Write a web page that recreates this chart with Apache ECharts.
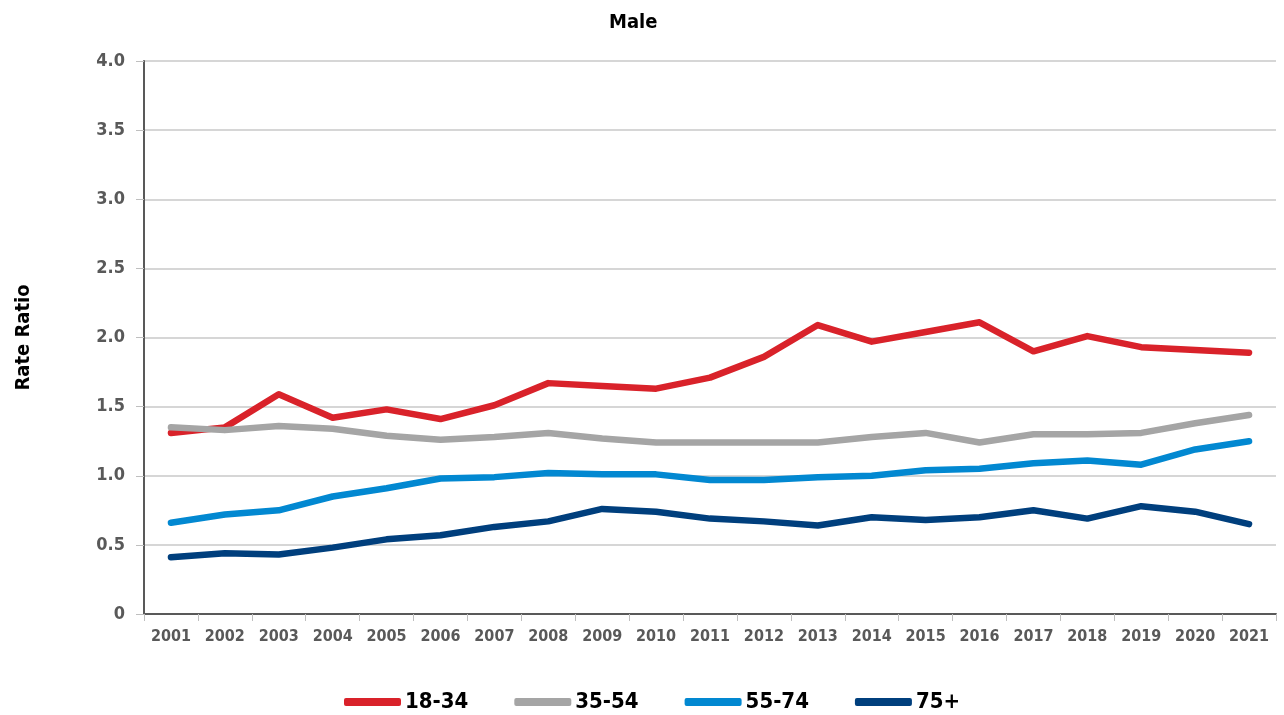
<!DOCTYPE html>
<html>
<head>
<meta charset="utf-8">
<script src="https://cdn.jsdelivr.net/npm/echarts@6/dist/echarts.min.js"></script>
<style>
  html, body { margin: 0; padding: 0; background: #fff; }
  #main { width: 1284px; height: 715px; }
</style>
</head>
<body>
<div id="main"></div>
<script>
var years = ['2001', '2002', '2003', '2004', '2005', '2006', '2007', '2008', '2009', '2010', '2011',
             '2012', '2013', '2014', '2015', '2016', '2017', '2018', '2019', '2020', '2021'];

var age18to34 = [1.31, 1.35, 1.59, 1.42, 1.48, 1.41, 1.51, 1.67, 1.65, 1.63, 1.71,
                 1.86, 2.09, 1.97, 2.04, 2.11, 1.90, 2.01, 1.93, 1.91, 1.89];
var age35to54 = [1.35, 1.33, 1.36, 1.34, 1.29, 1.26, 1.28, 1.31, 1.27, 1.24, 1.24,
                 1.24, 1.24, 1.28, 1.31, 1.24, 1.30, 1.30, 1.31, 1.38, 1.44];
var age55to74 = [0.66, 0.72, 0.75, 0.85, 0.91, 0.98, 0.99, 1.02, 1.01, 1.01, 0.97,
                 0.97, 0.99, 1.00, 1.04, 1.05, 1.09, 1.11, 1.08, 1.19, 1.25];
var age75plus = [0.41, 0.44, 0.43, 0.48, 0.54, 0.57, 0.63, 0.67, 0.76, 0.74, 0.69,
                 0.67, 0.64, 0.70, 0.68, 0.70, 0.75, 0.69, 0.78, 0.74, 0.65];

var seriesNames = ['18-34', '35-54', '55-74', '75+'];
var seriesColors = ['#d9222a', '#a5a5a5', '#0288d1', '#003f7d'];

var labelFont = "'DejaVu Sans Condensed', 'Liberation Sans Narrow', sans-serif";

var chart = echarts.init(document.getElementById('main'));

function makeLine(name, data, color) {
    return {
        name: name,
        type: 'line',
        data: data,
        symbol: 'none',
        smooth: false,
        lineStyle: {
            width: 6.5,
            color: color,
            cap: 'round',
            join: 'round'
        },
        itemStyle: { color: color }
    };
}

var option = {
    animation: false,
    title: {
        text: 'Male',
        left: 604,
        top: 8,
        textStyle: {
            fontFamily: labelFont,
            fontWeight: 'bold',
            fontSize: 20,
            color: '#000'
        }
    },
    legend: {
        data: seriesNames,
        top: 686,
        left: 339,
        itemWidth: 57,
        itemHeight: 8,
        itemGap: 46,
        icon: 'roundRect',
        textStyle: {
            fontFamily: labelFont,
            fontWeight: 'bold',
            fontSize: 22,
            color: '#000',
            padding: [0, 0, 0, -1]
        }
    },
    grid: {
        left: 144,
        right: 8,
        top: 61,
        bottom: 101,
        containLabel: false
    },
    xAxis: {
        type: 'category',
        data: years,
        boundaryGap: true,
        axisLine: { lineStyle: { color: '#595959', width: 2 } },
        axisTick: { show: true, length: 7, interval: 0, lineStyle: { color: '#bfbfbf' } },
        axisLabel: {
            interval: 0,
            fontFamily: labelFont,
            fontWeight: 'bold',
            fontSize: 16,
            color: '#595959',
            margin: 15
        },
        splitLine: { show: false }
    },
    yAxis: {
        type: 'value',
        min: 0,
        max: 4,
        interval: 0.5,
        name: 'Rate Ratio',
        nameLocation: 'middle',
        nameGap: 110,
        nameTextStyle: {
            fontFamily: labelFont,
            fontWeight: 'bold',
            fontSize: 20,
            color: '#000'
        },
        axisLine: { show: true, lineStyle: { color: '#595959', width: 2 } },
        axisTick: { show: true, length: 8, lineStyle: { color: '#bfbfbf' } },
        axisLabel: {
            fontFamily: labelFont,
            fontWeight: 'bold',
            fontSize: 18,
            color: '#595959',
            margin: 19,
            formatter: function (v) { return v === 0 ? '0' : v.toFixed(1); }
        },
        splitLine: { lineStyle: { color: '#c8c8c8', width: 1.5 } }
    },
    series: [
        makeLine(seriesNames[0], age18to34, seriesColors[0]),
        makeLine(seriesNames[1], age35to54, seriesColors[1]),
        makeLine(seriesNames[2], age55to74, seriesColors[2]),
        makeLine(seriesNames[3], age75plus, seriesColors[3])
    ]
};

chart.setOption(option);
</script>
</body>
</html>
